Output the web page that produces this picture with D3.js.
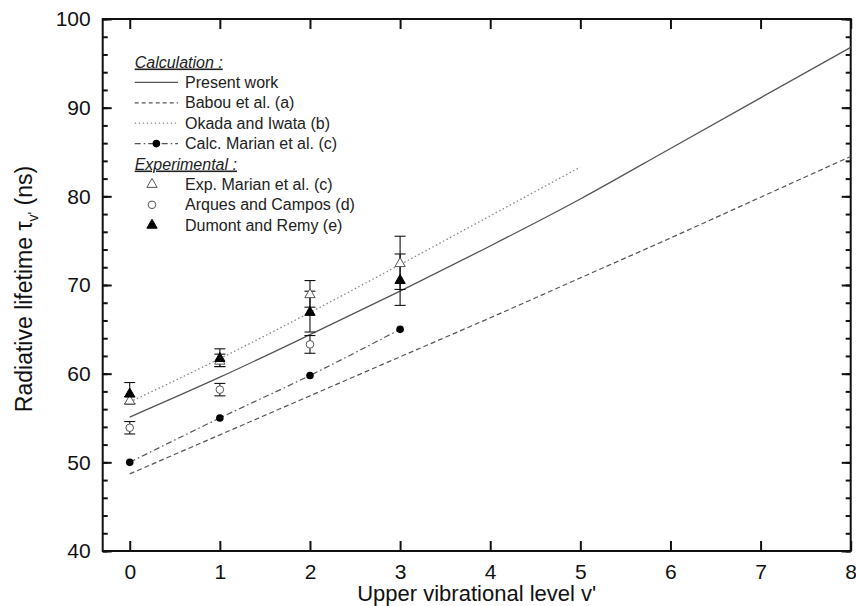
<!DOCTYPE html>
<html>
<head>
<meta charset="utf-8">
<script src="https://cdn.jsdelivr.net/npm/d3@7"></script>
<style>
  html, body { margin: 0; padding: 0; background: #fff; }
  svg { display: block; font-family: "Liberation Sans", Arial, Helvetica, sans-serif; }
</style>
</head>
<body>
<svg id="chart" width="856" height="606"></svg>
<script>
// Calculated radiative lifetimes (ns) against upper vibrational level v'
const levelsFull = [0, 1, 2, 3, 4, 5, 6, 7, 8];
const presentWork = [55.1, 59.6, 64.4, 69.3, 74.4, 79.7, 85.4, 91.1, 96.8];
const babou = [48.7, 53.1, 57.5, 61.9, 66.3, 70.8, 75.3, 79.9, 84.5];
const okadaLevels = [0, 1, 2, 3, 4, 5];
const okada = [56.8, 61.7, 66.9, 72.3, 77.8, 83.3];
const marianCalcLevels = [0, 1, 2, 3];
const marianCalc = [50.0, 55.0, 59.8, 65.0];

// Experimental lifetimes with uncertainties
const expMarianLevels = [0, 1, 2, 3];
const expMarian = [57.0, 61.5, 69.0, 72.5];
const expMarianErr = [0.4, 0.7, 1.5, 3.0];
const arquesLevels = [0, 1, 2];
const arques = [53.9, 58.2, 63.3];
const arquesErr = [0.7, 0.7, 1.0];
const dumontLevels = [0, 1, 2, 3];
const dumont = [57.8, 61.8, 67.0, 70.6];
const dumontErr = [1.2, 1.0, 2.3, 2.9];

const xTicks = [0, 1, 2, 3, 4, 5, 6, 7, 8];
const yTicks = [40, 50, 60, 70, 80, 90, 100];
const yMinorTicks = d3.range(40, 101, 2);

const svg = d3.select("#chart");
const plotLeft = 102.7, plotRight = 850.7, plotTop = 19, plotBottom = 551;

const x = d3.scaleLinear().domain([-0.3, 8]).range([plotLeft, plotRight]);
const y = d3.scaleLinear().domain([40, 100]).range([plotBottom, plotTop]);

// Frame
svg.append("rect")
  .attr("x", plotLeft).attr("y", plotTop)
  .attr("width", plotRight - plotLeft).attr("height", plotBottom - plotTop)
  .attr("fill", "none").attr("stroke", "#111").attr("stroke-width", 2);

// Inward ticks on all four sides
function tickAxis(axis, transform) {
  const g = svg.append("g").attr("transform", transform).call(axis);
  g.select(".domain").remove();
  g.selectAll("line").attr("stroke", "#111").attr("stroke-width", 2);
  return g;
}
const fmt = d3.format("d");
const bottomAxis = tickAxis(d3.axisBottom(x).tickValues(xTicks).tickSize(-10).tickPadding(13).tickFormat(fmt),
  `translate(0,${plotBottom})`);
bottomAxis.selectAll("text").attr("font-size", 21).attr("fill", "#111");
tickAxis(d3.axisTop(x).tickValues(xTicks).tickSize(-10).tickFormat(""), `translate(0,${plotTop})`);

tickAxis(d3.axisLeft(y).tickValues(yMinorTicks).tickSize(-5).tickFormat(""), `translate(${plotLeft},0)`);
const leftAxis = tickAxis(d3.axisLeft(y).tickValues(yTicks).tickSize(-9).tickPadding(12).tickFormat(fmt),
  `translate(${plotLeft},0)`);
leftAxis.selectAll("text").attr("font-size", 21).attr("fill", "#111");
tickAxis(d3.axisRight(y).tickValues(yMinorTicks).tickSize(-5).tickFormat(""), `translate(${plotRight},0)`);
tickAxis(d3.axisRight(y).tickValues(yTicks).tickSize(-9).tickFormat(""), `translate(${plotRight},0)`);

// Axis titles
svg.append("text")
  .attr("x", (plotLeft + plotRight) / 2).attr("y", 601)
  .attr("text-anchor", "middle").attr("font-size", 22).attr("fill", "#111")
  .text("Upper vibrational level v'");

const yTitle = svg.append("text")
  .attr("transform", `translate(32,${(plotTop + plotBottom) / 2 + 4}) rotate(-90)`)
  .attr("text-anchor", "middle").attr("font-size", 23).attr("fill", "#111");
yTitle.append("tspan").text("Radiative lifetime \u03C4");
yTitle.append("tspan").attr("font-size", 14).attr("dy", 6).text("v'");
yTitle.append("tspan").attr("dy", -6).text(" (ns)");

// Calculated curves
const plot = svg.append("g");
function curve(levels, values, dash, color, width) {
  const line = d3.line().x((d, i) => x(levels[i])).y(d => y(d)).curve(d3.curveMonotoneX);
  plot.append("path").datum(values)
    .attr("d", line).attr("fill", "none")
    .attr("stroke", color).attr("stroke-width", width)
    .attr("stroke-dasharray", dash);
}
curve(levelsFull, presentWork, null, "#555", 1.3);
curve(levelsFull, babou, "5,3", "#555", 1.2);
curve(okadaLevels, okada, "1.5,2.5", "#888", 1.3);
curve(marianCalcLevels, marianCalc, "6,3,1.5,3", "#555", 1.2);

plot.selectAll("circle.calc").data(marianCalc).enter().append("circle")
  .attr("class", "calc")
  .attr("cx", (d, i) => x(marianCalcLevels[i])).attr("cy", d => y(d))
  .attr("r", 3.8).attr("fill", "#000");

// Error bars
function errorBars(levels, values, errs) {
  const g = plot.append("g").attr("stroke", "#111").attr("stroke-width", 1.1);
  values.forEach((v, i) => {
    const cx = x(levels[i]), y0 = y(v - errs[i]), y1 = y(v + errs[i]);
    g.append("line").attr("x1", cx).attr("x2", cx).attr("y1", y0).attr("y2", y1);
    g.append("line").attr("x1", cx - 5.5).attr("x2", cx + 5.5).attr("y1", y0).attr("y2", y0);
    g.append("line").attr("x1", cx - 5.5).attr("x2", cx + 5.5).attr("y1", y1).attr("y2", y1);
  });
}
errorBars(expMarianLevels, expMarian, expMarianErr);
errorBars(arquesLevels, arques, arquesErr);
errorBars(dumontLevels, dumont, dumontErr);

const tri = d3.symbol().type(d3.symbolTriangle).size(46);
function markers(levels, values, shape, fill, stroke) {
  values.forEach((v, i) => {
    const cx = x(levels[i]), cy = y(v);
    if (shape === "circle") {
      plot.append("circle").attr("cx", cx).attr("cy", cy).attr("r", 3.8)
        .attr("fill", fill).attr("stroke", stroke).attr("stroke-width", 1);
    } else {
      plot.append("path").attr("d", tri()).attr("transform", `translate(${cx},${cy + 0.8})`)
        .attr("fill", fill).attr("stroke", stroke).attr("stroke-width", 1);
    }
  });
}
markers(expMarianLevels, expMarian, "triangle", "#fff", "#555");
markers(arquesLevels, arques, "circle", "#fff", "#555");
markers(dumontLevels, dumont, "triangle", "#000", "#000");

// Legend
const legend = svg.append("g").attr("font-size", 16).attr("fill", "#222");
const lx = 134.7, sampleEnd = 178, textX = 185;
const rowY = d3.range(9).map(i => 62 + i * 20.4);

function heading(label, yy) {
  legend.append("text").attr("x", lx).attr("y", yy + 5.5)
    .attr("font-style", "italic").attr("text-decoration", "underline").text(label);
}
function lineEntry(label, yy, dash, color, dot) {
  legend.append("line").attr("x1", lx).attr("x2", sampleEnd).attr("y1", yy).attr("y2", yy)
    .attr("stroke", color).attr("stroke-width", 1.2).attr("stroke-dasharray", dash);
  if (dot) legend.append("circle").attr("cx", (lx + sampleEnd) / 2).attr("cy", yy).attr("r", 3.8).attr("fill", "#000");
  legend.append("text").attr("x", textX).attr("y", yy + 5.5).text(label);
}
function symbolEntry(label, yy, shape, fill, stroke) {
  const sx = 152;
  if (shape === "circle") {
    legend.append("circle").attr("cx", sx).attr("cy", yy).attr("r", 3.8)
      .attr("fill", fill).attr("stroke", stroke);
  } else {
    legend.append("path").attr("d", tri()).attr("transform", `translate(${sx},${yy})`)
      .attr("fill", fill).attr("stroke", stroke);
  }
  legend.append("text").attr("x", textX).attr("y", yy + 5.5).text(label);
}

heading("Calculation :", rowY[0]);
lineEntry("Present work", rowY[1], null, "#555");
lineEntry("Babou et al. (a)", rowY[2], "4,3", "#555");
lineEntry("Okada and Iwata (b)", rowY[3], "1.5,2.5", "#888");
lineEntry("Calc. Marian et al. (c)", rowY[4], "6,3,1.5,3", "#555", true);
heading("Experimental :", rowY[5]);
symbolEntry("Exp. Marian et al. (c)", rowY[6], "triangle", "#fff", "#555");
symbolEntry("Arques and Campos (d)", rowY[7], "circle", "#fff", "#555");
symbolEntry("Dumont and Remy (e)", rowY[8], "triangle", "#000", "#000");
</script>
</body>
</html>
